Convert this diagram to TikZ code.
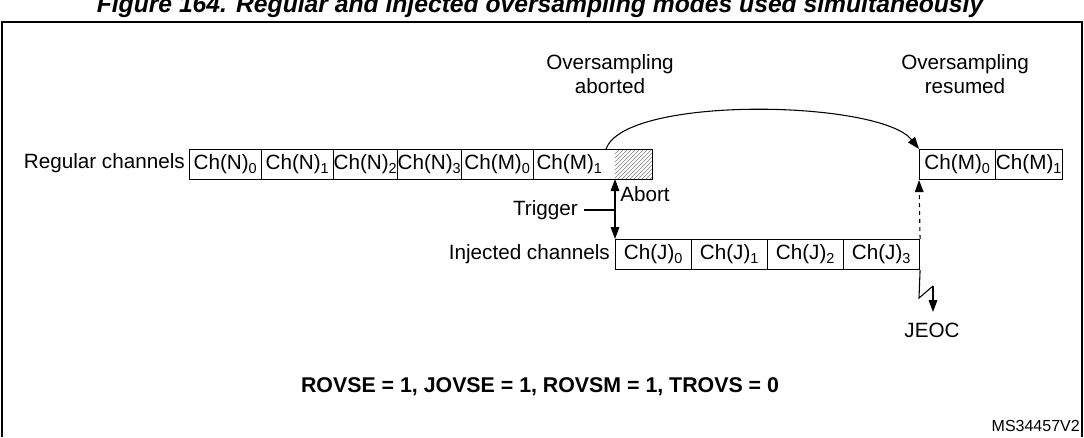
\documentclass[tikz,border=0pt]{standalone}
\usepackage{fontspec}
\setmainfont{Liberation Sans}
\usetikzlibrary{patterns,arrows.meta}
\newcommand{\sbs}[1]{\textsubscript{#1}}
\begin{document}
\begin{tikzpicture}[x=0.75pt,y=-0.75pt,font=\fontsize{15.5}{18}\selectfont,
 cell/.style={draw,thick,minimum height=22.5pt,inner sep=0pt,anchor=north west},
 lbl/.style={inner sep=0pt},
 arr/.style={thick,-{Triangle[length=9pt,width=6.5pt]}}]
\useasboundingbox (0,0) rectangle (1084,437);
\begin{scope}
\clip (0,0) rectangle (1084,437);
\node[font=\bfseries\itshape\fontsize{18.5}{20}\selectfont,lbl] (title) at (540,6) {Figure 164. Regular and injected oversampling modes used simultaneously};
\end{scope}
\draw[thick] (2,437) -- (2,22) -- (1082,22) -- (1082,437);
% regular row
\foreach \n/\a/\b/\t in {r0/189/261/Ch(N)\sbs{0},r1/261/333/Ch(N)\sbs{1},r2/333/397/Ch(N)\sbs{2},r3/397/461/Ch(N)\sbs{3},r4/461/533/Ch(M)\sbs{0}}
 \node[cell,minimum width={(\b-\a)*0.75pt}] (\n) at (\a,149) {\t};
\fill[pattern=north east lines,pattern color=gray] (615,149) rectangle (652,179);
\node[cell,minimum width={(652-533)*0.75pt},align=left,text width={(652-533-6)*0.75pt}] (r5) at (533,149) {Ch(M)\sbs{1}};
\node[lbl,anchor=east] (reg) at (185,163) {Regular channels};
% resumed
\node[cell,minimum width={76*0.75pt}] (m0) at (919,149) {Ch(M)\sbs{0}};
\node[cell,minimum width={67*0.75pt}] (m1) at (995,149) {Ch(M)\sbs{1}};
% injected
\foreach \n/\a/\t in {j0/615/Ch(J)\sbs{0},j1/691/Ch(J)\sbs{1},j2/767/Ch(J)\sbs{2},j3/843/Ch(J)\sbs{3}}
 \node[cell,minimum width={76*0.75pt}] (\n) at (\a,239) {\t};
\node[lbl,anchor=east] (inj) at (610,254) {Injected channels};
% abort / trigger
\coordinate (ab) at (615,179);
\coordinate (tr) at (615,210);
\draw[arr] (tr) -- (ab);
\draw[arr] (tr) -- (j0.north west);
\node[lbl,anchor=east] (trig) at (578,210) {Trigger};
\draw[thick] (trig.east) ++(6,0) -- (tr);
\node[lbl,anchor=west] (abt) at (620,194) {Abort};
% curve
\coordinate (cs) at (606,149);
\draw[arr] (cs) .. controls (625,95) and (880,100) .. (m0.north west);
\node[lbl,align=center] (oa) at (610,74) {Oversampling\\aborted};
\node[lbl,align=center] (or) at (965,74) {Oversampling\\resumed};
% dashed
\draw[arr,dashed] (j3.north east) -- (m0.south west);
% JEOC
\coordinate (z1) at (919,298);
\coordinate (z2) at (933,286);
\coordinate (je) at (933,312);
\draw[thick] (j3.south east) -- (z1) -- (z2);
\draw[arr] (z2) -- (je);
\node[lbl] (jeoc) at (932,330) {JEOC};
\node[lbl,font=\bfseries\fontsize{16}{18}\selectfont] (eq) at (540,387) {ROVSE = 1, JOVSE = 1, ROVSM = 1, TROVS = 0};
\node[lbl,font=\fontsize{12}{13}\selectfont,anchor=east] (ms) at (1080,426) {MS34457V2};
\end{tikzpicture}
\end{document}
